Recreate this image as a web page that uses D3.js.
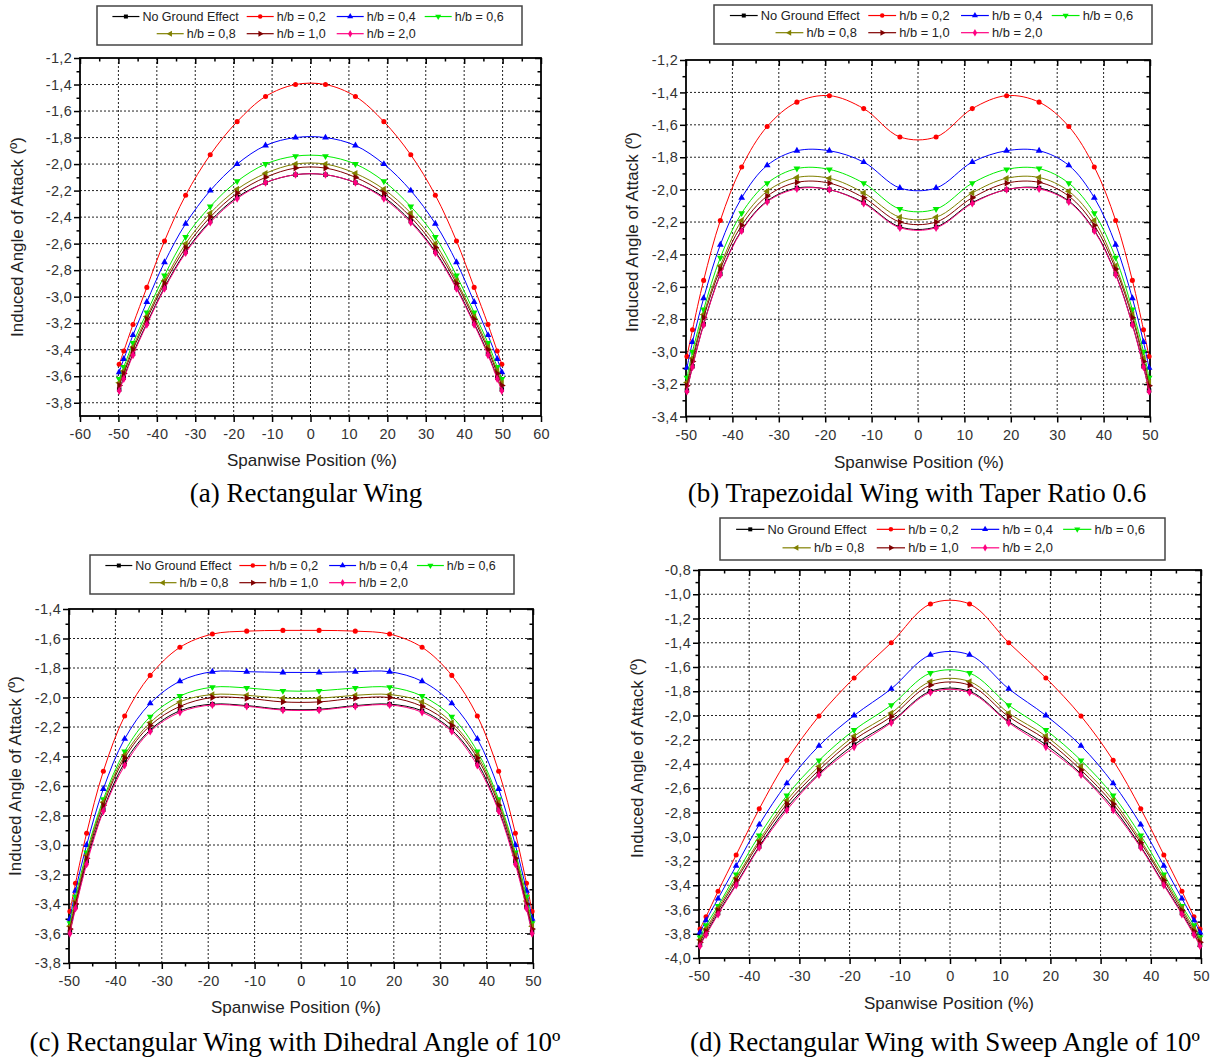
<!DOCTYPE html>
<html><head><meta charset="utf-8">
<script src="https://cdn.jsdelivr.net/npm/d3@7"></script>
<style>body{margin:0;background:#fff}svg{display:block}</style>
</head><body>
<svg id="c" width="1212" height="1058"></svg>
<script>
// ---------- DATA ----------
const spanPositions = [-49.8,-48.6,-46.2,-42.6,-38.0,-32.5,-26.1,-19.1,-11.7,-3.9,3.9,11.7,19.1,26.1,32.5,38.0,42.6,46.2,48.6,49.8];
const seriesNames = ["No Ground Effect","h/b = 0,2","h/b = 0,4","h/b = 0,6","h/b = 0,8","h/b = 1,0","h/b = 2,0"];

// (a) Rectangular wing
const rectNoGE = [-3.70,-3.61,-3.43,-3.20,-2.93,-2.66,-2.43,-2.25,-2.14,-2.08,-2.08,-2.14,-2.25,-2.43,-2.66,-2.93,-3.20,-3.43,-3.61,-3.70];
const rectH02  = [-3.51,-3.41,-3.21,-2.93,-2.58,-2.235,-1.93,-1.68,-1.49,-1.40,-1.40,-1.49,-1.68,-1.93,-2.235,-2.58,-2.93,-3.21,-3.41,-3.51];
const rectH04  = [-3.57,-3.47,-3.29,-3.04,-2.74,-2.45,-2.20,-2.00,-1.86,-1.80,-1.80,-1.86,-2.00,-2.20,-2.45,-2.74,-3.04,-3.29,-3.47,-3.57];
const rectH06  = [-3.62,-3.53,-3.35,-3.12,-2.84,-2.55,-2.32,-2.13,-2.00,-1.94,-1.94,-2.00,-2.13,-2.32,-2.55,-2.84,-3.12,-3.35,-3.53,-3.62];
const rectH08  = [-3.65,-3.56,-3.38,-3.15,-2.88,-2.60,-2.37,-2.19,-2.07,-2.00,-2.00,-2.07,-2.19,-2.37,-2.60,-2.88,-3.15,-3.38,-3.56,-3.65];
const rectH10  = [-3.67,-3.58,-3.40,-3.17,-2.90,-2.63,-2.40,-2.22,-2.10,-2.03,-2.03,-2.10,-2.22,-2.40,-2.63,-2.90,-3.17,-3.40,-3.58,-3.67];
const rectH20  = [-3.71,-3.62,-3.44,-3.21,-2.94,-2.67,-2.44,-2.26,-2.14,-2.08,-2.08,-2.14,-2.26,-2.44,-2.67,-2.94,-3.21,-3.44,-3.62,-3.71];

// (b) Trapezoidal wing, taper ratio 0.6
const trapNoGE = [-3.24,-3.09,-2.83,-2.52,-2.25,-2.07,-1.99,-2.00,-2.08,-2.23,-2.23,-2.08,-2.00,-1.99,-2.07,-2.25,-2.52,-2.83,-3.09,-3.24];
const trapH02  = [-3.03,-2.865,-2.56,-2.19,-1.86,-1.61,-1.46,-1.42,-1.50,-1.675,-1.675,-1.50,-1.42,-1.46,-1.61,-1.86,-2.19,-2.56,-2.865,-3.03];
const trapH04  = [-3.10,-2.94,-2.67,-2.34,-2.05,-1.85,-1.76,-1.76,-1.83,-1.99,-1.99,-1.83,-1.76,-1.76,-1.85,-2.05,-2.34,-2.67,-2.94,-3.10];
const trapH06  = [-3.16,-3.00,-2.74,-2.42,-2.145,-1.96,-1.87,-1.875,-1.96,-2.12,-2.12,-1.96,-1.875,-1.87,-1.96,-2.145,-2.42,-2.74,-3.00,-3.16];
const trapH08  = [-3.19,-3.04,-2.77,-2.47,-2.19,-2.01,-1.925,-1.93,-2.02,-2.17,-2.17,-2.02,-1.93,-1.925,-2.01,-2.19,-2.47,-2.77,-3.04,-3.19];
const trapH10  = [-3.21,-3.06,-2.79,-2.49,-2.22,-2.04,-1.955,-1.96,-2.05,-2.20,-2.20,-2.05,-1.96,-1.955,-2.04,-2.22,-2.49,-2.79,-3.06,-3.21];
const trapH20  = [-3.245,-3.095,-2.835,-2.525,-2.255,-2.075,-1.995,-2.00,-2.085,-2.235,-2.235,-2.085,-2.00,-1.995,-2.075,-2.255,-2.525,-2.835,-3.095,-3.245];

// (c) Rectangular wing, dihedral 10º
const dihNoGE = [-3.59,-3.42,-3.11,-2.76,-2.44,-2.22,-2.09,-2.045,-2.055,-2.08,-2.08,-2.055,-2.045,-2.09,-2.22,-2.44,-2.76,-3.11,-3.42,-3.59];
const dihH02  = [-3.45,-3.26,-2.92,-2.50,-2.125,-1.85,-1.66,-1.57,-1.55,-1.545,-1.545,-1.55,-1.57,-1.66,-1.85,-2.125,-2.50,-2.92,-3.26,-3.45];
const dihH04  = [-3.50,-3.31,-3.00,-2.62,-2.28,-2.04,-1.89,-1.825,-1.825,-1.83,-1.83,-1.825,-1.825,-1.89,-2.04,-2.28,-2.62,-3.00,-3.31,-3.50];
const dihH06  = [-3.53,-3.35,-3.05,-2.69,-2.365,-2.13,-1.99,-1.93,-1.935,-1.955,-1.955,-1.935,-1.93,-1.99,-2.13,-2.365,-2.69,-3.05,-3.35,-3.53];
const dihH08  = [-3.55,-3.38,-3.07,-2.71,-2.39,-2.17,-2.03,-1.98,-1.985,-2.005,-2.005,-1.985,-1.98,-2.03,-2.17,-2.39,-2.71,-3.07,-3.38,-3.55];
const dihH10  = [-3.57,-3.40,-3.09,-2.73,-2.41,-2.19,-2.06,-2.00,-2.005,-2.03,-2.03,-2.005,-2.00,-2.06,-2.19,-2.41,-2.73,-3.09,-3.40,-3.57];
const dihH20  = [-3.60,-3.43,-3.13,-2.77,-2.46,-2.23,-2.10,-2.05,-2.06,-2.085,-2.085,-2.06,-2.05,-2.10,-2.23,-2.46,-2.77,-3.13,-3.43,-3.60];

// (d) Rectangular wing, sweep 10º
const swNoGE = [-3.89,-3.80,-3.63,-3.39,-3.08,-2.76,-2.48,-2.24,-2.05,-1.80,-1.80,-2.05,-2.24,-2.48,-2.76,-3.08,-3.39,-3.63,-3.80,-3.89];
const swH02  = [-3.76,-3.66,-3.45,-3.15,-2.77,-2.37,-2.005,-1.69,-1.40,-1.08,-1.08,-1.40,-1.69,-2.005,-2.37,-2.77,-3.15,-3.45,-3.66,-3.76];
const swH04  = [-3.79,-3.69,-3.51,-3.24,-2.90,-2.56,-2.25,-2.00,-1.78,-1.50,-1.50,-1.78,-2.00,-2.25,-2.56,-2.90,-3.24,-3.51,-3.69,-3.79];
const swH06  = [-3.83,-3.73,-3.57,-3.31,-2.99,-2.66,-2.37,-2.12,-1.915,-1.65,-1.65,-1.915,-2.12,-2.37,-2.66,-2.99,-3.31,-3.57,-3.73,-3.83];
const swH08  = [-3.85,-3.76,-3.59,-3.34,-3.03,-2.70,-2.42,-2.17,-1.98,-1.72,-1.72,-1.98,-2.17,-2.42,-2.70,-3.03,-3.34,-3.59,-3.76,-3.85];
const swH10  = [-3.87,-3.78,-3.61,-3.36,-3.05,-2.73,-2.45,-2.20,-2.01,-1.75,-1.75,-2.01,-2.20,-2.45,-2.73,-3.05,-3.36,-3.61,-3.78,-3.87];
const swH20  = [-3.90,-3.81,-3.64,-3.40,-3.09,-2.78,-2.49,-2.26,-2.06,-1.81,-1.81,-2.06,-2.26,-2.49,-2.78,-3.09,-3.40,-3.64,-3.81,-3.90];

// tick values
const xTicksA = [-60,-50,-40,-30,-20,-10,0,10,20,30,40,50,60];
const xTicksBCD = [-50,-40,-30,-20,-10,0,10,20,30,40,50];
const yTicksA = [-3.8,-3.6,-3.4,-3.2,-3.0,-2.8,-2.6,-2.4,-2.2,-2.0,-1.8,-1.6,-1.4,-1.2];
const yTicksB = [-3.4,-3.2,-3.0,-2.8,-2.6,-2.4,-2.2,-2.0,-1.8,-1.6,-1.4,-1.2];
const yTicksC = [-3.8,-3.6,-3.4,-3.2,-3.0,-2.8,-2.6,-2.4,-2.2,-2.0,-1.8,-1.6,-1.4];
const yTicksD = [-4.0,-3.8,-3.6,-3.4,-3.2,-3.0,-2.8,-2.6,-2.4,-2.2,-2.0,-1.8,-1.6,-1.4,-1.2,-1.0,-0.8];

// ---------- STYLE ----------
const colors = ["#000000","#ff0000","#0000ff","#00ee00","#808000","#800000","#ff0080"];
const symTypes = [d3.symbolSquare,d3.symbolCircle,d3.symbolTriangle,d3.symbolTriangle,d3.symbolTriangle,d3.symbolTriangle,d3.symbolDiamond];
const symRot = [0,0,0,180,-90,90,0];
const SANS = "'Liberation Sans', Arial, sans-serif";
const SERIF = "'Liberation Serif', 'Times New Roman', serif";

const panels = [
  {series:[rectNoGE,rectH02,rectH04,rectH06,rectH08,rectH10,rectH20], xTicks:xTicksA, yTicks:yTicksA,
   xDom:[-60,60], yDom:[-3.9,-1.2], L:80, R:541, T:58, B:416,
   leg:{x:97,y:6,w:425,h:39}, yTitle:[17,237], xTitle:[312,460], cap:"(a) Rectangular Wing", capPos:[306,493]},
  {series:[trapNoGE,trapH02,trapH04,trapH06,trapH08,trapH10,trapH20], xTicks:xTicksBCD, yTicks:yTicksB,
   xDom:[-50,50], yDom:[-3.4,-1.2], L:686, R:1150, T:60, B:416.5,
   leg:{x:714,y:5,w:438,h:39}, yTitle:[632,232], xTitle:[919,462], cap:"(b) Trapezoidal Wing with Taper Ratio 0.6", capPos:[917,493]},
  {series:[dihNoGE,dihH02,dihH04,dihH06,dihH08,dihH10,dihH20], xTicks:xTicksBCD, yTicks:yTicksC,
   xDom:[-50,50], yDom:[-3.8,-1.4], L:69, R:533, T:609, B:963,
   leg:{x:90,y:555,w:424,h:39}, yTitle:[15,776], xTitle:[296,1007], cap:"(c) Rectangular Wing with Dihedral Angle of 10º", capPos:[295,1042]},
  {series:[swNoGE,swH02,swH04,swH06,swH08,swH10,swH20], xTicks:xTicksBCD, yTicks:yTicksD,
   xDom:[-50,50], yDom:[-4.0,-0.8], L:699, R:1201, T:570, B:958,
   leg:{x:720,y:518,w:445,h:42}, yTitle:[637,758], xTitle:[949,1003], cap:"(d) Rectangular Wing with Sweep Angle of 10º", capPos:[945,1042]}
];

const svg = d3.select("#c");
const fmtY = d => d3.format(".1f")(d).replace(".", ",").replace("−","-");
const fmtX = d => String(d);

function marker(sel, i, size) {
  sel.append("path")
    .attr("d", d3.symbol().type(symTypes[i]).size(size)())
    .attr("transform", `rotate(${symRot[i]})`)
    .attr("fill", colors[i]).attr("stroke", "none");
}

function styleAxis(g) {
  g.select(".domain").remove();
  g.selectAll("line").attr("stroke", "#000").attr("stroke-width", 1.5);
  g.selectAll("text").attr("font-family", SANS).attr("font-size", 14.5)
    .attr("letter-spacing", "0.3px").attr("fill", "#333");
}

panels.forEach(p => {
  const x = d3.scaleLinear().domain(p.xDom).range([p.L, p.R]);
  const y = d3.scaleLinear().domain(p.yDom).range([p.B, p.T]);
  const g = svg.append("g");

  // grid
  const gx = p.xTicks.filter(v => v > p.xDom[0] && v < p.xDom[1]);
  const gy = p.yTicks.filter(v => v > p.yDom[0] + 1e-9 && v < p.yDom[1] - 1e-9);
  g.append("g").selectAll("line").data(gx).join("line")
    .attr("x1", d => x(d)).attr("x2", d => x(d)).attr("y1", p.T).attr("y2", p.B)
    .attr("stroke", "#222").attr("stroke-width", 1).attr("stroke-dasharray", "2,2");
  g.append("g").selectAll("line").data(gy).join("line")
    .attr("y1", d => y(d)).attr("y2", d => y(d)).attr("x1", p.L).attr("x2", p.R)
    .attr("stroke", "#222").attr("stroke-width", 1).attr("stroke-dasharray", "2,2");

  // minor ticks (midpoints between majors)
  const xMinor = [];
  for (let i = 0; i < p.xTicks.length - 1; i++) xMinor.push((p.xTicks[i] + p.xTicks[i+1]) / 2);
  const yMinor = [];
  for (let i = 0; i < p.yTicks.length - 1; i++) yMinor.push((p.yTicks[i] + p.yTicks[i+1]) / 2);

  const ab = g.append("g").attr("transform", `translate(0,${p.B})`)
    .call(d3.axisBottom(x).tickValues(p.xTicks).tickFormat(fmtX).tickSize(6).tickPadding(7));
  styleAxis(ab);
  styleAxis(g.append("g").attr("transform", `translate(0,${p.B})`)
    .call(d3.axisBottom(x).tickValues(xMinor).tickFormat("").tickSize(3.5)));
  styleAxis(g.append("g").attr("transform", `translate(0,${p.T})`)
    .call(d3.axisTop(x).tickValues(p.xTicks).tickFormat("").tickSize(-6)));
  styleAxis(g.append("g").attr("transform", `translate(0,${p.T})`)
    .call(d3.axisTop(x).tickValues(xMinor).tickFormat("").tickSize(-3.5)));
  const al = g.append("g").attr("transform", `translate(${p.L},0)`)
    .call(d3.axisLeft(y).tickValues(p.yTicks).tickFormat(fmtY).tickSize(6).tickPadding(2));
  styleAxis(al);
  styleAxis(g.append("g").attr("transform", `translate(${p.L},0)`)
    .call(d3.axisLeft(y).tickValues(yMinor).tickFormat("").tickSize(3.5)));
  styleAxis(g.append("g").attr("transform", `translate(${p.R},0)`)
    .call(d3.axisRight(y).tickValues(p.yTicks).tickFormat("").tickSize(-6)));
  styleAxis(g.append("g").attr("transform", `translate(${p.R},0)`)
    .call(d3.axisRight(y).tickValues(yMinor).tickFormat("").tickSize(-3.5)));

  // frame
  g.append("rect").attr("x", p.L).attr("y", p.T).attr("width", p.R - p.L).attr("height", p.B - p.T)
    .attr("fill", "none").attr("stroke", "#000").attr("stroke-width", 1.8);

  // series
  const line = d3.line().x(d => x(d[0])).y(d => y(d[1])).curve(d3.curveCatmullRom.alpha(0.5));
  p.series.forEach((vals, i) => {
    const pts = spanPositions.map((s, k) => [s, vals[k]]);
    g.append("path").datum(pts).attr("d", line)
      .attr("fill", "none").attr("stroke", colors[i]).attr("stroke-width", 1);
    g.append("g").selectAll("g").data(pts).join("g")
      .attr("transform", d => `translate(${x(d[0])},${y(d[1])})`)
      .each(function() { marker(d3.select(this), i, 20); });
  });

  // axis titles
  g.append("text").attr("transform", `translate(${p.yTitle[0]},${p.yTitle[1]}) rotate(-90)`)
    .attr("text-anchor", "middle").attr("dominant-baseline", "central")
    .attr("font-family", SANS).attr("font-size", 17).attr("fill", "#222")
    .text("Induced Angle of Attack (º)");
  g.append("text").attr("x", p.xTitle[0]).attr("y", p.xTitle[1])
    .attr("text-anchor", "middle").attr("dominant-baseline", "central")
    .attr("font-family", SANS).attr("font-size", 17).attr("fill", "#222")
    .text("Spanwise Position (%)");
  // caption
  g.append("text").attr("x", p.capPos[0]).attr("y", p.capPos[1])
    .attr("text-anchor", "middle").attr("dominant-baseline", "central")
    .attr("font-family", SERIF).attr("font-size", 27).attr("fill", "#000")
    .text(p.cap);

  // legend
  const lg = svg.append("g").attr("transform", `translate(${p.leg.x},${p.leg.y})`);
  lg.append("rect").attr("x", 0).attr("y", 0).attr("width", p.leg.w).attr("height", p.leg.h)
    .attr("fill", "#fff").attr("stroke", "#444").attr("stroke-width", 1.5);
  const k = p.leg.w / 425;
  const row1 = [15.4, 149.7, 239.7, 327.7].map(v => v * k);
  const row2 = [59.7, 149.7, 239.7].map(v => v * k);
  const r1y = p.leg.h * 0.27, r2y = p.leg.h * 0.71;
  const pos = [[row1[0], r1y],[row1[1], r1y],[row1[2], r1y],[row1[3], r1y],[row2[0], r2y],[row2[1], r2y],[row2[2], r2y]];
  seriesNames.forEach((name, i) => {
    const e = lg.append("g").attr("transform", `translate(${pos[i][0]},${pos[i][1]})`);
    e.append("line").attr("x1", 0).attr("x2", 27 * k).attr("y1", 0).attr("y2", 0)
      .attr("stroke", colors[i]).attr("stroke-width", 1.2);
    const m = e.append("g").attr("transform", `translate(${13.5 * k},0)`);
    marker(m, i, 16);
    e.append("text").attr("x", 30 * k).attr("y", 0).attr("dominant-baseline", "central")
      .attr("font-family", SANS).attr("font-size", 12.5 * Math.min(k, 1.03)).attr("fill", "#222").text(name);
  });
});
</script>
</body></html>
